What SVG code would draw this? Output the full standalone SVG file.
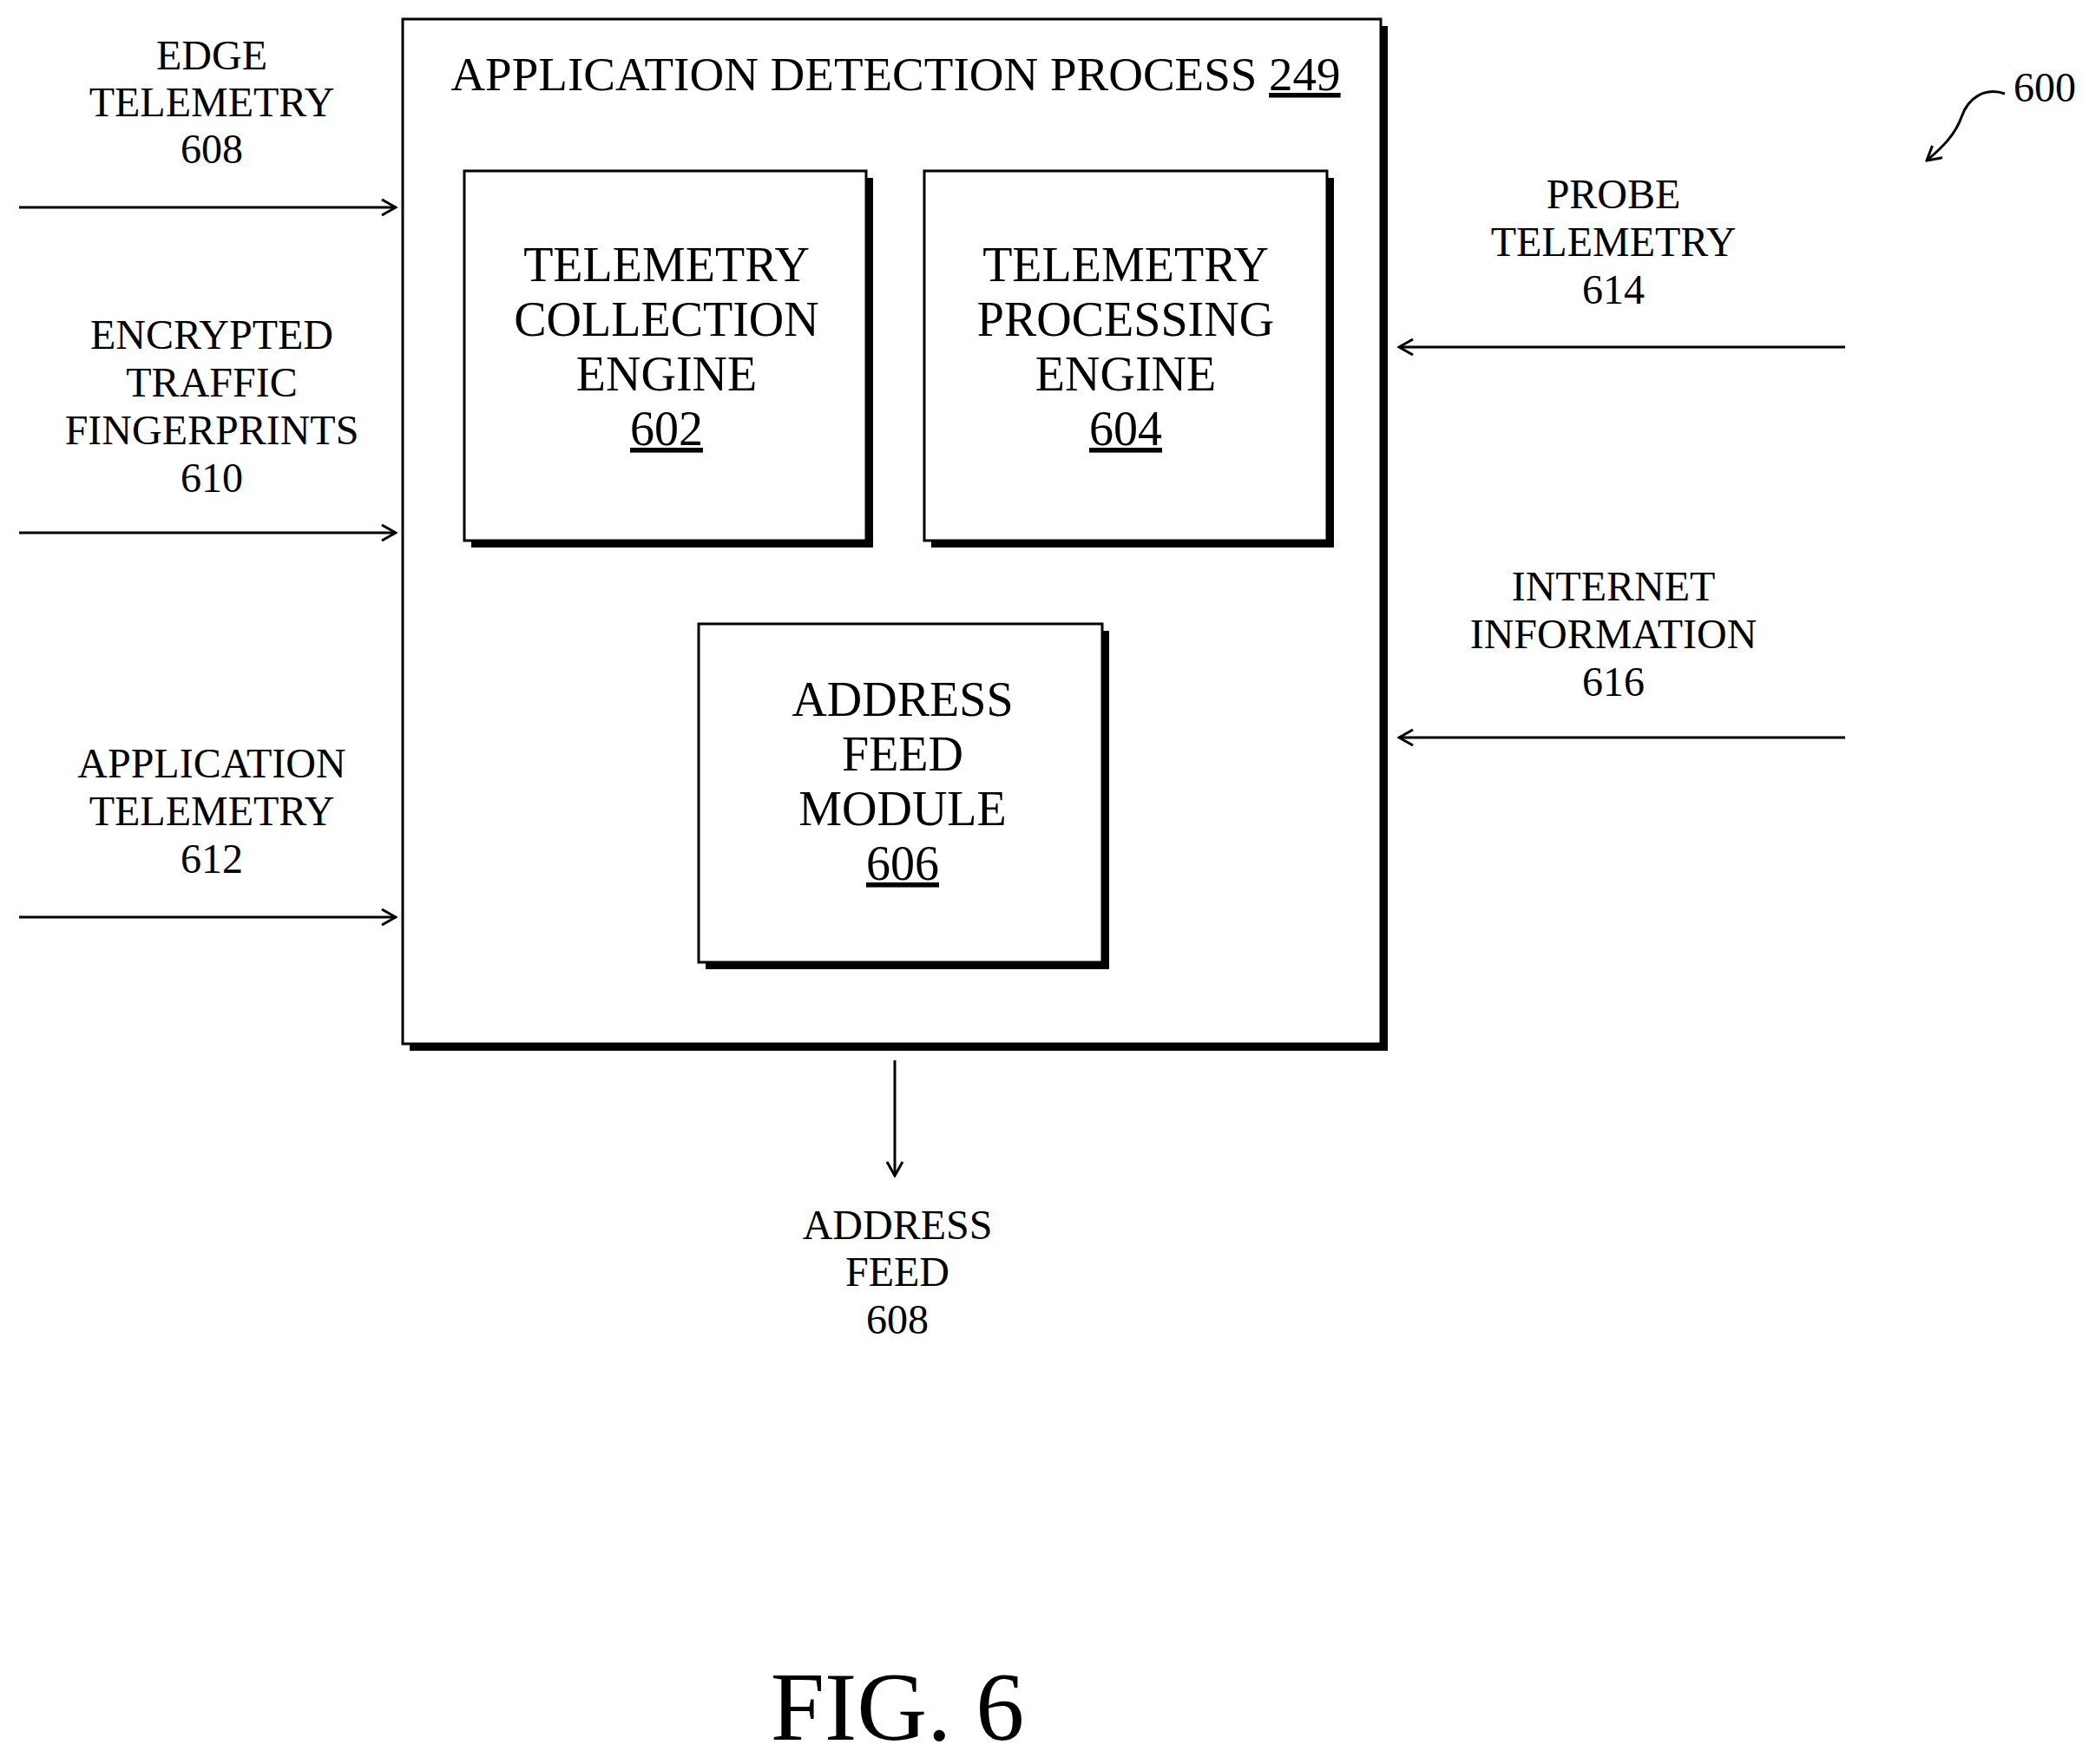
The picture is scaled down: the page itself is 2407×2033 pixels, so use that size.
<svg xmlns="http://www.w3.org/2000/svg" width="2407" height="2033" viewBox="0 0 2407 2033">
<style>
text{font-family:"Liberation Serif","Times New Roman",serif;fill:#000;text-anchor:middle}
.l{font-size:48px}.b{font-size:56px}
.box{fill:#fff;stroke:#000;stroke-width:3}
.sh{fill:#000}
.c{stroke:#000;stroke-width:3;fill:none}
</style>
<defs><marker id="a" viewBox="0 0 20 20" refX="18" refY="10" markerWidth="20" markerHeight="20" markerUnits="userSpaceOnUse" orient="auto"><polyline points="2,1 18,10 2,19" fill="none" stroke="#000" stroke-width="3"/></marker></defs>
<rect width="2407" height="2033" fill="#fff"/>
<g id="main"><rect class="sh" x="472" y="30" width="1127" height="1181"/><rect class="box" x="464" y="22" width="1127" height="1181"/>
<text x="1032" y="104" style="font-size:55px">APPLICATION DETECTION PROCESS <tspan text-decoration="underline">249</tspan></text></g>
<g id="n602"><rect class="sh" x="543" y="205" width="463" height="426"/><rect class="box" x="535" y="197" width="463" height="426"/>
<text class="b" x="768" y="324">TELEMETRY</text><text class="b" x="768" y="387">COLLECTION</text><text class="b" x="768" y="450">ENGINE</text><text class="b" x="768" y="513" text-decoration="underline">602</text></g>
<g id="n604"><rect class="sh" x="1073" y="205" width="464" height="426"/><rect class="box" x="1065" y="197" width="464" height="426"/>
<text class="b" x="1297" y="324">TELEMETRY</text><text class="b" x="1297" y="387">PROCESSING</text><text class="b" x="1297" y="450">ENGINE</text><text class="b" x="1297" y="513" text-decoration="underline">604</text></g>
<g id="n606"><rect class="sh" x="813" y="727" width="465" height="390"/><rect class="box" x="805" y="719" width="465" height="390"/>
<text class="b" x="1040" y="825">ADDRESS</text><text class="b" x="1040" y="888">FEED</text><text class="b" x="1040" y="951">MODULE</text><text class="b" x="1040" y="1014" text-decoration="underline">606</text></g>
<g id="labels">
<text class="l" x="244" y="80">EDGE</text><text class="l" x="244" y="134">TELEMETRY</text><text class="l" x="244" y="188">608</text>
<text class="l" x="244" y="402">ENCRYPTED</text><text class="l" x="244" y="457">TRAFFIC</text><text class="l" x="244" y="512">FINGERPRINTS</text><text class="l" x="244" y="567">610</text>
<text class="l" x="244" y="896">APPLICATION</text><text class="l" x="244" y="951">TELEMETRY</text><text class="l" x="244" y="1006">612</text>
<text class="l" x="1859" y="240">PROBE</text><text class="l" x="1859" y="295">TELEMETRY</text><text class="l" x="1859" y="350">614</text>
<text class="l" x="1859" y="692">INTERNET</text><text class="l" x="1859" y="747">INFORMATION</text><text class="l" x="1859" y="802">616</text>
<text class="l" x="1034" y="1428">ADDRESS</text><text class="l" x="1034" y="1482">FEED</text><text class="l" x="1034" y="1537">608</text>
<text class="l" x="2356" y="117">600</text>
<text x="1034" y="2005" style="font-size:112px">FIG. 6</text></g>
<g id="connectors">
<line class="c" x1="22" y1="239" x2="456" y2="239" marker-end="url(#a)"/>
<line class="c" x1="22" y1="614" x2="456" y2="614" marker-end="url(#a)"/>
<line class="c" x1="22" y1="1057" x2="456" y2="1057" marker-end="url(#a)"/>
<line class="c" x1="2126" y1="400" x2="1612" y2="400" marker-end="url(#a)"/>
<line class="c" x1="2126" y1="850" x2="1612" y2="850" marker-end="url(#a)"/>
<line class="c" x1="1031" y1="1222" x2="1031" y2="1355" marker-end="url(#a)"/>
<path class="c" d="M2310,108 C2288,100 2268,112 2260,135 C2253,155 2238,170 2220,185" marker-end="url(#a)"/>
</g>
</svg>
